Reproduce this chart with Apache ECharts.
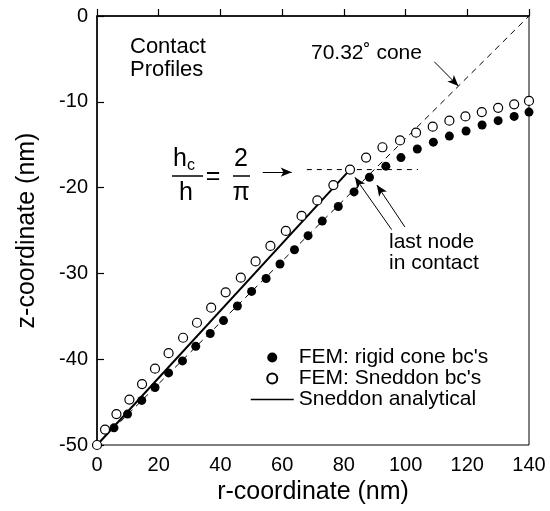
<!DOCTYPE html>
<html><head><meta charset="utf-8">
<script src="https://cdn.jsdelivr.net/npm/echarts@6/dist/echarts.min.js"></script>
<style>html,body{margin:0;padding:0;background:#fff}#c{width:550px;height:511px}</style>
</head><body><div id="c"></div>
<script>
// Data
const rigidR = [5.5, 9.9, 14.5, 18.8, 23.2, 27.7, 32.0, 36.7, 41.0, 45.5, 50.1, 54.8, 59.3, 64.0, 68.4, 73.0, 78.2, 83.3, 88.3, 93.6, 98.5, 103.8, 109.0, 114.2, 119.6, 124.8, 130.0, 135.2, 140.0];
const rigidZ = [-48.0, -46.4, -44.8, -43.3, -41.6, -40.2, -38.5, -37.0, -35.5, -33.8, -32.1, -30.6, -28.9, -27.25, -25.6, -23.9, -22.2, -20.5, -18.8, -17.5, -16.5, -15.5, -14.7, -14.0, -13.4, -12.7, -12.2, -11.7, -11.2];
const sneddonR = [0, 2.6, 6.3, 10.5, 14.6, 18.8, 23.2, 27.9, 32.4, 37.0, 41.7, 46.6, 51.4, 56.2, 61.2, 66.3, 71.4, 76.6, 82.0, 87.2, 92.5, 98.2, 103.4, 108.8, 114.2, 119.4, 124.7, 130.0, 135.2, 140.0];
const sneddonZ = [-50, -48.2, -46.4, -44.7, -42.9, -41.1, -39.3, -37.5, -35.75, -34.0, -32.2, -30.5, -28.6, -26.8, -25.05, -23.3, -21.5, -19.7, -17.9, -16.5, -15.3, -14.5, -13.6, -12.9, -12.2, -11.7, -11.2, -10.7, -10.3, -9.9];
const analyticR = [0, 82.0];
const analyticZ = [-50, -17.9];
const coneR = [0, 140];
const coneZ = [-50, 0];
const hcLineR = [68, 104];
const hcLineZ = [-17.9, -17.9];
const xTicks = [0, 20, 40, 60, 80, 100, 120, 140];
const yTicks = [-50, -40, -30, -20, -10, 0];
const arrowFrom = [[109.3, -5.33], [53.7, -18.2], [95.5, -24.9], [99.8, -24.6]];
const arrowTo = [[117.1, -8.16], [63.1, -18.2], [83.6, -18.8], [90.7, -19.7]];
const seriesNames = ["FEM: rigid cone bc's", "FEM: Sneddon bc's", "Sneddon analytical"];

const zip = (a, b) => a.map((v, i) => [v, b[i]]);
const FONT = '"Liberation Sans", Arial, Helvetica, sans-serif';

const chart = echarts.init(document.getElementById('c'), null, {renderer: 'canvas'});
const option = {
  animation: false,
  backgroundColor: '#fff',
  textStyle: {fontFamily: FONT, color: '#000'},
  grid: {left: 97, right: 21, top: 16, bottom: 66, show: true, borderColor: '#000', borderWidth: 1, containLabel: false},
  xAxis: {
    type: 'value', min: xTicks[0], max: xTicks[xTicks.length - 1], interval: 20,
    name: 'r-coordinate (nm)', nameLocation: 'middle', nameGap: 31,
    nameTextStyle: {fontSize: 25, color: '#000', fontFamily: FONT},
    axisLine: {show: true, lineStyle: {color: '#000', width: 1.5}},
    axisTick: {show: true, inside: true, length: 7, lineStyle: {color: '#000', width: 1.2}},
    axisLabel: {fontSize: 20, color: '#000', margin: 10, fontFamily: FONT},
    splitLine: {show: false}
  },
  yAxis: {
    type: 'value', min: yTicks[0], max: yTicks[yTicks.length - 1], interval: 10,
    name: 'z-coordinate (nm)', nameLocation: 'middle', nameGap: 57,
    nameTextStyle: {fontSize: 25, color: '#000', fontFamily: FONT},
    axisLine: {show: true, lineStyle: {color: '#000', width: 1.5}},
    axisTick: {show: true, inside: true, length: 7, lineStyle: {color: '#000', width: 1.2}},
    axisLabel: {fontSize: 20, color: '#000', margin: 9, fontFamily: FONT},
    splitLine: {show: false}
  },
  legend: {
    orient: 'vertical', left: 245, top: 342,
    itemWidth: 43, itemHeight: 10, itemGap: 0, itemTextGap: 4,
    textStyle: {fontSize: 21, lineHeight: 19, color: '#000', fontFamily: FONT},
    data: [
      {name: seriesNames[0]},
      {name: seriesNames[1]},
      {name: seriesNames[2], itemStyle: {opacity: 0}, lineStyle: {color: '#000', width: 1.5, opacity: 1}}
    ]
  },
  series: [
    {
      type: 'line', name: 'cone', data: zip(coneR, coneZ), symbol: 'none', silent: true,
      lineStyle: {color: '#000', width: 1, type: [6, 5]}, z: 1,
      markLine: {
        silent: true, symbol: ['none', 'arrow'], symbolSize: [7, 11],
        label: {show: false},
        lineStyle: {color: '#000', width: 1, type: 'solid'},
        data: arrowFrom.map((f, i) => [{coord: f}, {coord: arrowTo[i]}])
      }
    },
    {
      type: 'line', name: 'hc', data: zip(hcLineR, hcLineZ), symbol: 'none', silent: true,
      lineStyle: {color: '#000', width: 1, type: [5, 5]}, z: 1
    },
    {
      type: 'scatter', name: seriesNames[0], data: zip(rigidR, rigidZ),
      symbol: 'circle', symbolSize: 9, itemStyle: {color: '#000', opacity: 1}, z: 3
    },
    {
      type: 'line', name: seriesNames[2], data: zip(analyticR, analyticZ),
      symbol: 'none', lineStyle: {color: '#000', width: 2}, itemStyle: {color: '#000'}, z: 2
    },
    {
      type: 'scatter', name: seriesNames[1], data: zip(sneddonR, sneddonZ),
      symbol: 'circle', symbolSize: 9,
      itemStyle: {color: '#fff', borderColor: '#000', borderWidth: 1.2, opacity: 1}, z: 4
    }
  ],
  graphic: [
    {type: 'text', left: 130, top: 35, style: {text: 'Contact\nProfiles', font: '22px ' + FONT, lineHeight: 23, fill: '#000'}},
    {type: 'text', left: 311, top: 43, style: {text: '70.32˚ cone', font: '21px ' + FONT, fill: '#000'}},
    {type: 'text', left: 389, top: 232, style: {text: 'last node\nin contact', font: '21px ' + FONT, lineHeight: 21, fill: '#000'}},
    // h_c / h = 2 / pi
    {type: 'text', x: 173, y: 172, style: {text: 'h', font: '25px ' + FONT, textVerticalAlign: 'bottom', fill: '#000'}},
    {type: 'text', x: 187, y: 174, style: {text: 'c', font: '16px ' + FONT, textVerticalAlign: 'bottom', fill: '#000'}},
    {type: 'line', shape: {x1: 172, y1: 176, x2: 203, y2: 176}, style: {stroke: '#000', lineWidth: 1.5}},
    {type: 'text', x: 186, y: 181, style: {text: 'h', font: '25px ' + FONT, textAlign: 'center', textVerticalAlign: 'top', fill: '#000'}},
    {type: 'text', x: 213, y: 177, style: {text: '=', font: '25px ' + FONT, textAlign: 'center', textVerticalAlign: 'middle', fill: '#000'}},
    {type: 'text', x: 241, y: 172, style: {text: '2', font: '25px ' + FONT, textAlign: 'center', textVerticalAlign: 'bottom', fill: '#000'}},
    {type: 'line', shape: {x1: 233, y1: 176, x2: 250, y2: 176}, style: {stroke: '#000', lineWidth: 1.5}},
    {type: 'text', x: 241, y: 181, style: {text: 'π', font: '25px ' + FONT, textAlign: 'center', textVerticalAlign: 'top', fill: '#000'}}
  ]
};
chart.setOption(option);
</script>
</body></html>
